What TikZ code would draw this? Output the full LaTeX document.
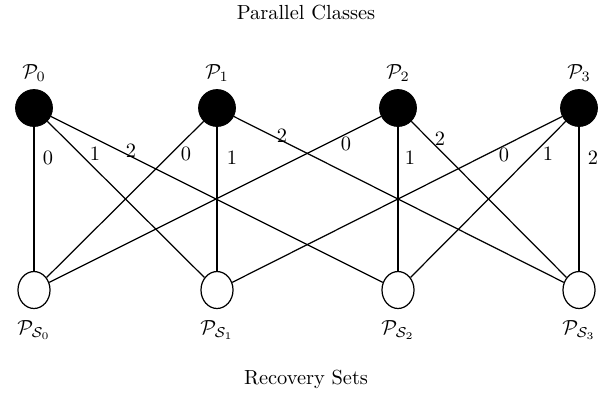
\documentclass[tikz,border=0pt]{standalone}
\usetikzlibrary{shapes.geometric}
\begin{document}
\begin{tikzpicture}[x=0.49pt,y=-0.49pt,
  top/.style={circle,fill=black,draw=black,minimum size=18.1pt,inner sep=0pt},
  bot/.style={ellipse,draw=black,line width=0.6pt,minimum width=15.7pt,minimum height=18.1pt,inner sep=0pt},
  lab/.style={inner sep=0pt},
  edge/.style={draw=black,line width=0.6pt}]
\useasboundingbox (0,0) rectangle (611,407);
\node[lab] (title) at (306,13) {Parallel Classes};
\node[lab] (foot) at (306,379) {Recovery Sets};
\foreach \i/\x in {0/34,1/217,2/398,3/579}{
  \node[top] (p\i) at (\x,108) {};
  \node[lab] (pl\i) at (\x,73) {$\mathcal{P}_{\i}$};
  \node[bot] (s\i) at (\x,290) {};
  \node[lab] (sl\i) at (\x,330) {$\mathcal{P}_{\mathcal{S}_{\i}}$};
}
\draw[edge] (p0) -- (s0); \draw[edge] (p0) -- (s1); \draw[edge] (p0) -- (s2);
\draw[edge] (p1) -- (s0); \draw[edge] (p1) -- (s1); \draw[edge] (p1) -- (s3);
\draw[edge] (p2) -- (s0); \draw[edge] (p2) -- (s2); \draw[edge] (p2) -- (s3);
\draw[edge] (p3) -- (s1); \draw[edge] (p3) -- (s2); \draw[edge] (p3) -- (s3);
\node[lab] (e00) at (48,158) {0};
\node[lab] (e01) at (95,154) {1};
\node[lab] (e02) at (131,151) {2};
\node[lab] (e10) at (186,154) {0};
\node[lab] (e11) at (232,158) {1};
\node[lab] (e12) at (282,136) {2};
\node[lab] (e20) at (346,144) {0};
\node[lab] (e21) at (410,158) {1};
\node[lab] (e22) at (440,139) {2};
\node[lab] (e30) at (504,155) {0};
\node[lab] (e31) at (548,154) {1};
\node[lab] (e32) at (593,158) {2};
\end{tikzpicture}
\end{document}
